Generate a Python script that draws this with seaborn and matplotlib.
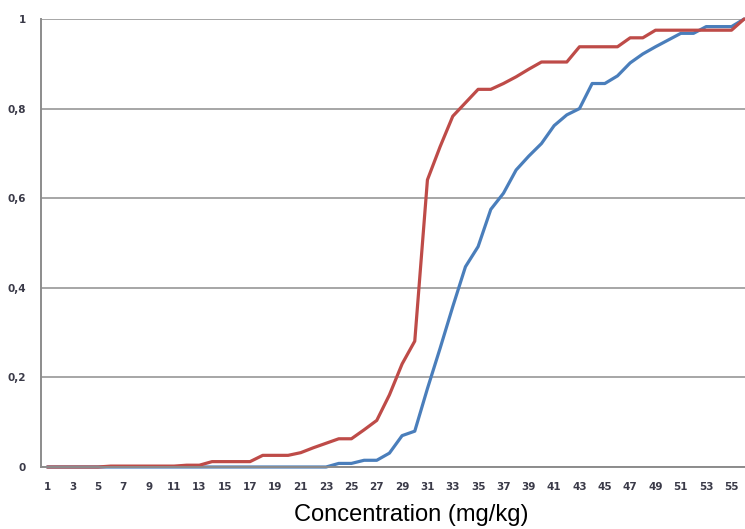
import numpy as np
import pandas as pd
import matplotlib
matplotlib.use("Agg")
import matplotlib.pyplot as plt
import seaborn as sns
from matplotlib.ticker import FixedLocator, FuncFormatter

# ---- data ----
concentration = list(range(1, 57))
series_blue = [0, 0, 0, 0, 0, 0, 0, 0, 0, 0,
               0, 0, 0, 0, 0, 0, 0, 0, 0, 0,
               0, 0, 0, 0.008, 0.008, 0.015, 0.015, 0.031, 0.070, 0.080,
               0.175, 0.265, 0.358, 0.447, 0.492, 0.575, 0.611, 0.663, 0.694, 0.722,
               0.762, 0.786, 0.800, 0.856, 0.856, 0.873, 0.902, 0.922, 0.938, 0.953,
               0.968, 0.968, 0.983, 0.983, 0.983, 1.0]
series_red = [0, 0, 0, 0, 0, 0.002, 0.002, 0.002, 0.002, 0.002,
              0.002, 0.004, 0.004, 0.012, 0.012, 0.012, 0.012, 0.026, 0.026, 0.026,
              0.032, 0.043, 0.053, 0.063, 0.063, 0.083, 0.104, 0.161, 0.230, 0.281,
              0.641, 0.715, 0.783, 0.813, 0.843, 0.843, 0.856, 0.871, 0.888, 0.904,
              0.904, 0.904, 0.938, 0.938, 0.938, 0.938, 0.958, 0.958, 0.975, 0.975,
              0.975, 0.975, 0.975, 0.975, 0.975, 1.0]
x_tick_labels = [str(v) for v in range(1, 57, 2)]
y_ticks = [0, 0.2, 0.4, 0.6, 0.8, 1.0]
x_label = "Concentration (mg/kg)"

df = pd.DataFrame({
    "x": concentration * 2,
    "y": series_blue + series_red,
    "series": ["blue"] * len(series_blue) + ["red"] * len(series_red),
})

sns.set_style("white")
fig = plt.figure(figsize=(7.45, 5.29), dpi=100)
ax = fig.add_axes([41 / 745, 62 / 529, 704 / 745, 448 / 529])

sns.lineplot(data=df, x="x", y="y", hue="series",
             palette={"blue": "#4A7EBB", "red": "#BE4B48"},
             linewidth=2.3, legend=False, ax=ax, sort=False)
for ln in ax.get_lines():
    ln.set_clip_on(False)
    ln.set_solid_joinstyle("round")

ax.set_xlim(0.5, 0.5 + 704 / 12.67)
ax.set_ylim(0, 1)

# gridlines
ax.yaxis.set_major_locator(FixedLocator(y_ticks))
ax.yaxis.grid(True, color="#A6A6A6", linewidth=1.4)
ax.set_axisbelow(True)
ax.xaxis.grid(False)

fmt = FuncFormatter(lambda v, p: ("%g" % v).replace(".", ","))
ax.yaxis.set_major_formatter(fmt)

# x ticks: labels at odd categories, tick marks at category boundaries
ax.set_xticks(list(range(1, 57, 2)))
ax.set_xticklabels(x_tick_labels)
ax.tick_params(axis="x", which="major", length=0, pad=11)
ax.xaxis.set_minor_locator(FixedLocator([0.5 + k for k in range(0, 57)]))
ax.tick_params(axis="x", which="minor", length=4, width=1.2, color="#8C8C8C", direction="out")
ax.tick_params(axis="y", which="major", length=4, width=1.2, color="#8C8C8C", direction="out", pad=7)

for lab in ax.get_xticklabels() + ax.get_yticklabels():
    lab.set_fontsize(7.5)
    lab.set_fontweight("bold")
    lab.set_color("#3A3A48")
    lab.set_family("DejaVu Sans")

for s in ["top", "right"]:
    ax.spines[s].set_visible(False)
for s in ["left", "bottom"]:
    ax.spines[s].set_color("#8C8C8C")
    ax.spines[s].set_linewidth(1.4)

ax.set_ylabel("")
ax.set_xlabel(x_label, fontsize=17, family="Liberation Sans", color="black")
ax.xaxis.set_label_coords((411.5 - 41) / 704, -(515 - 467) / 448)
ax.xaxis.label.set_va("center")

fig.savefig("out.png", dpi=100)
